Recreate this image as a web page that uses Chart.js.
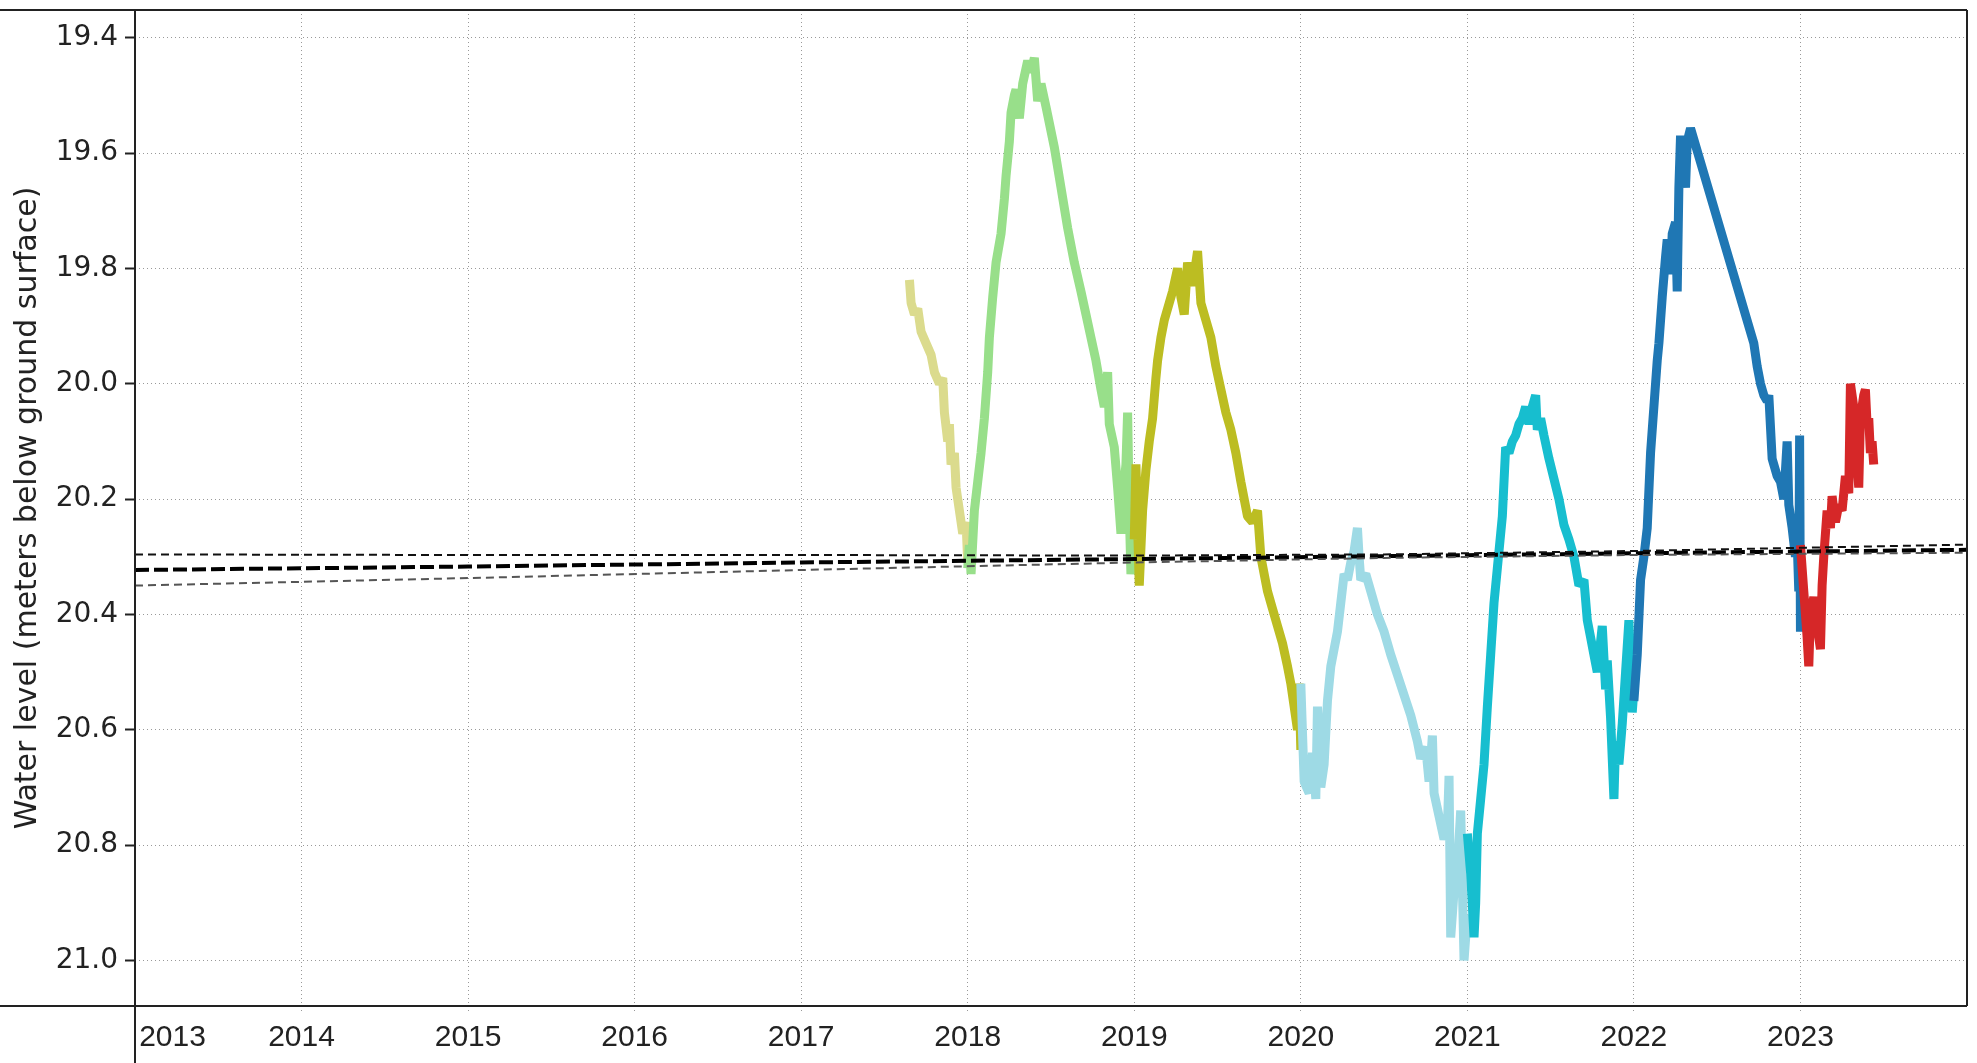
<!DOCTYPE html>
<html>
<head>
<meta charset="utf-8">
<script src="https://cdn.jsdelivr.net/npm/chart.js@4/dist/chart.umd.min.js"></script>
<style>
  body { margin: 0; background: #fff; }
  #wrap { width: 1977px; height: 1063px; }
</style>
</head>
<body>
<div id="wrap"><canvas id="canvas"></canvas></div>
<script>
// water level readings per year segment (decimal year, meters below ground)
const t2017 = [2017.65, 2017.66, 2017.68, 2017.70, 2017.72, 2017.75, 2017.78, 2017.80, 2017.83, 2017.85, 2017.86, 2017.88, 2017.89, 2017.90, 2017.92, 2017.93, 2017.95, 2017.97, 2017.99, 2018.0];
const w2017 = [19.82, 19.86, 19.88, 19.87, 19.91, 19.93, 19.95, 19.98, 20.00, 19.99, 20.05, 20.10, 20.07, 20.14, 20.12, 20.18, 20.22, 20.26, 20.24, 20.31];

const t2018 = [2018.0, 2018.01, 2018.02, 2018.04, 2018.06, 2018.08, 2018.10, 2018.12, 2018.13, 2018.15, 2018.17, 2018.20, 2018.22, 2018.23, 2018.25, 2018.26, 2018.28, 2018.29, 2018.31, 2018.33, 2018.36, 2018.38, 2018.40, 2018.42, 2018.44, 2018.47, 2018.52, 2018.56, 2018.60, 2018.64, 2018.68, 2018.71, 2018.74, 2018.77, 2018.80, 2018.82, 2018.84, 2018.85, 2018.88, 2018.90, 2018.92, 2018.93, 2018.95, 2018.96, 2018.97, 2018.98, 2019.0];
const w2018 = [20.32, 20.28, 20.33, 20.22, 20.17, 20.12, 20.06, 19.98, 19.92, 19.85, 19.79, 19.74, 19.68, 19.64, 19.58, 19.53, 19.50, 19.49, 19.54, 19.48, 19.44, 19.46, 19.435, 19.51, 19.48, 19.52, 19.59, 19.66, 19.73, 19.79, 19.84, 19.88, 19.92, 19.96, 20.01, 20.04, 19.98, 20.07, 20.11, 20.18, 20.26, 20.20, 20.14, 20.05, 20.22, 20.33, 20.27];

const t2019 = [2019.0, 2019.01, 2019.03, 2019.05, 2019.07, 2019.09, 2019.11, 2019.13, 2019.14, 2019.16, 2019.18, 2019.21, 2019.23, 2019.26, 2019.28, 2019.30, 2019.32, 2019.35, 2019.38, 2019.40, 2019.43, 2019.46, 2019.49, 2019.52, 2019.55, 2019.58, 2019.61, 2019.64, 2019.68, 2019.71, 2019.74, 2019.76, 2019.80, 2019.83, 2019.86, 2019.89, 2019.92, 2019.94, 2019.96, 2019.98, 2019.99, 2020.0];
const w2019 = [20.27, 20.14, 20.35, 20.22, 20.15, 20.10, 20.06, 19.99, 19.96, 19.92, 19.89, 19.86, 19.84, 19.80, 19.85, 19.88, 19.79, 19.83, 19.77, 19.86, 19.89, 19.92, 19.97, 20.01, 20.05, 20.08, 20.12, 20.17, 20.23, 20.24, 20.22, 20.30, 20.36, 20.39, 20.42, 20.45, 20.49, 20.52, 20.56, 20.60, 20.52, 20.635];

const t2020 = [2020.0, 2020.02, 2020.05, 2020.07, 2020.09, 2020.10, 2020.12, 2020.14, 2020.16, 2020.18, 2020.20, 2020.22, 2020.24, 2020.26, 2020.28, 2020.30, 2020.32, 2020.34, 2020.35, 2020.36, 2020.39, 2020.42, 2020.46, 2020.50, 2020.54, 2020.58, 2020.62, 2020.66, 2020.70, 2020.72, 2020.75, 2020.77, 2020.79, 2020.80, 2020.83, 2020.86, 2020.88, 2020.89, 2020.90, 2020.92, 2020.94, 2020.96, 2020.98, 2021.0];
const w2020 = [20.52, 20.69, 20.71, 20.64, 20.72, 20.56, 20.70, 20.66, 20.55, 20.49, 20.46, 20.43, 20.38, 20.33, 20.34, 20.31, 20.29, 20.25, 20.30, 20.34, 20.33, 20.36, 20.40, 20.43, 20.47, 20.505, 20.54, 20.575, 20.62, 20.65, 20.63, 20.69, 20.61, 20.71, 20.75, 20.79, 20.77, 20.68, 20.96, 20.88, 20.84, 20.74, 21.0, 20.92];

const t2021 = [2021.0, 2021.02, 2021.04, 2021.05, 2021.06, 2021.08, 2021.10, 2021.12, 2021.14, 2021.16, 2021.18, 2021.20, 2021.21, 2021.23, 2021.25, 2021.27, 2021.29, 2021.31, 2021.33, 2021.35, 2021.37, 2021.39, 2021.41, 2021.42, 2021.44, 2021.46, 2021.49, 2021.52, 2021.55, 2021.58, 2021.61, 2021.64, 2021.67, 2021.70, 2021.72, 2021.74, 2021.76, 2021.78, 2021.81, 2021.83, 2021.84, 2021.86, 2021.88, 2021.89, 2021.91, 2021.93, 2021.95, 2021.97, 2021.99, 2022.0];
const w2021 = [20.78, 20.85, 20.96, 20.90, 20.78, 20.72, 20.66, 20.56, 20.47, 20.38, 20.32, 20.26, 20.23, 20.11, 20.12, 20.10, 20.09, 20.07, 20.06, 20.04, 20.07, 20.04, 20.02, 20.08, 20.06, 20.09, 20.13, 20.165, 20.20, 20.245, 20.27, 20.30, 20.35, 20.34, 20.41, 20.44, 20.47, 20.50, 20.42, 20.53, 20.48, 20.58, 20.72, 20.62, 20.66, 20.59, 20.50, 20.41, 20.57, 20.53];

const t2022 = [2022.0, 2022.02, 2022.04, 2022.06, 2022.08, 2022.10, 2022.12, 2022.14, 2022.15, 2022.17, 2022.19, 2022.20, 2022.22, 2022.23, 2022.25, 2022.26, 2022.27, 2022.28, 2022.30, 2022.31, 2022.32, 2022.34, 2022.72, 2022.74, 2022.76, 2022.78, 2022.80, 2022.81, 2022.83, 2022.86, 2022.88, 2022.90, 2022.92, 2022.93, 2022.95, 2022.97, 2022.98, 2022.99, 2022.995, 2023.0];
const w2022 = [20.55, 20.47, 20.34, 20.30, 20.25, 20.12, 20.04, 19.96, 19.93, 19.85, 19.78, 19.75, 19.81, 19.74, 19.72, 19.84, 19.66, 19.57, 19.62, 19.66, 19.58, 19.557, 19.93, 19.97, 20.00, 20.02, 20.03, 20.02, 20.13, 20.16, 20.17, 20.20, 20.10, 20.21, 20.25, 20.30, 20.27, 20.36, 20.09, 20.43];

const t2023 = [2023.0, 2023.02, 2023.04, 2023.05, 2023.06, 2023.08, 2023.10, 2023.12, 2023.13, 2023.14, 2023.16, 2023.18, 2023.19, 2023.21, 2023.23, 2023.25, 2023.27, 2023.29, 2023.30, 2023.32, 2023.33, 2023.35, 2023.36, 2023.38, 2023.39, 2023.40, 2023.41, 2023.42, 2023.43, 2023.44];
const w2023 = [20.28, 20.36, 20.44, 20.49, 20.40, 20.37, 20.42, 20.46, 20.35, 20.30, 20.22, 20.25, 20.195, 20.24, 20.21, 20.22, 20.16, 20.19, 20.00, 20.04, 20.10, 20.18, 20.06, 20.02, 20.01, 20.07, 20.06, 20.12, 20.10, 20.14];

// trend line and its confidence band
const trendYears = [2013, 2015, 2017, 2019, 2020.5, 2022, 2024];
const trendMid   = [20.323, 20.317, 20.310, 20.304, 20.299, 20.294, 20.288];
const trendUpper = [20.296, 20.297, 20.297, 20.298, 20.296, 20.290, 20.279];
const trendLower = [20.350, 20.337, 20.323, 20.310, 20.302, 20.297, 20.293];

// axis ticks
const yearTicks = [2013, 2014, 2015, 2016, 2017, 2018, 2019, 2020, 2021, 2022, 2023];
const levelTicks = [19.4, 19.6, 19.8, 20.0, 20.2, 20.4, 20.6, 20.8, 21.0];

const segments = [
  { t: t2017, w: w2017, color: '#dbdb8d' },
  { t: t2018, w: w2018, color: '#98df8a' },
  { t: t2019, w: w2019, color: '#bcbd22' },
  { t: t2020, w: w2020, color: '#9edae5' },
  { t: t2021, w: w2021, color: '#17becf' },
  { t: t2022, w: w2022, color: '#1f77b4' },
  { t: t2023, w: w2023, color: '#d62728' },
];

function pts(xs, ys) {
  return xs.map((x, i) => ({ x: x, y: ys[i] }));
}

let datasets = [];

// trend lines go on top of the data
datasets.push({ data: pts(trendYears, trendUpper), borderColor: '#111', borderWidth: 2, borderDash: [8, 5], order: 0 });
datasets.push({ data: pts(trendYears, trendLower), borderColor: '#555', borderWidth: 2, borderDash: [8, 5], order: 0 });
datasets.push({ data: pts(trendYears, trendMid), borderColor: '#000', borderWidth: 4, borderDash: [14, 5], order: 0 });

// later years drawn over earlier ones
segments.forEach((s, i) => {
  datasets.push({ data: pts(s.t, s.w), borderColor: s.color, borderWidth: 9, borderJoinStyle: 'bevel', order: 20 - i });
});

// the outer frame: top and bottom lines run across the whole width
const frame = {
  id: 'frame',
  afterDraw(chart) {
    const { ctx, chartArea: a, height } = chart;
    ctx.save();
    ctx.strokeStyle = '#222';
    ctx.lineWidth = 2;
    ctx.beginPath();
    ctx.moveTo(0, a.top); ctx.lineTo(a.right, a.top);
    ctx.moveTo(0, a.bottom); ctx.lineTo(a.right, a.bottom);
    ctx.moveTo(a.left, a.top); ctx.lineTo(a.left, height);
    ctx.moveTo(a.right, a.top); ctx.lineTo(a.right, a.bottom);
    ctx.stroke();
    ctx.restore();
  }
};

let options = {
  type: 'line',
  data: { datasets: datasets },
  options: {
    responsive: true,
    maintainAspectRatio: false,
    animation: false,
    layout: { padding: { top: 10, right: 10, left: 0, bottom: 0 } },
    elements: { point: { radius: 0 }, line: { tension: 0 } },
    plugins: { legend: { display: false }, tooltip: { enabled: false } },
    scales: {
      x: {
        type: 'linear',
        min: 2013,
        max: 2024,
        afterBuildTicks: s => { s.ticks = yearTicks.map(v => ({ value: v })); },
        afterFit: s => { s.height = 57; s.paddingLeft = 0; s.paddingRight = 0; },
        ticks: {
          autoSkip: false,
          maxRotation: 0,
          padding: 8,
          color: '#222',
          font: { family: "'Liberation Sans', Arial, sans-serif", size: 30 },
          callback: v => v === 2013 ? '         2013' : String(v)
        },
        grid: { color: '#999', tickColor: '#999', tickLength: 6, tickBorderDash: [1, 3] },
        border: { display: false, dash: [1, 3] }
      },
      y: {
        reverse: true,
        min: 19.352,
        max: 21.079,
        afterBuildTicks: s => { s.ticks = levelTicks.map(v => ({ value: v })); },
        afterFit: s => { s.width = 135; s.paddingTop = 0; s.paddingBottom = 0; },
        ticks: {
          padding: 7,
          color: '#222',
          font: { family: "'DejaVu Sans', sans-serif", size: 28 },
          callback: v => v.toFixed(1)
        },
        grid: { color: '#999', tickColor: '#222', tickWidth: 2, tickLength: 10 },
        border: { display: false, dash: [1, 3] },
        title: {
          display: true,
          text: 'Water level (meters below ground surface)',
          color: '#222',
          font: { family: "'DejaVu Sans', sans-serif", size: 30 },
          padding: { top: 10, bottom: 0 }
        }
      }
    }
  },
  plugins: [frame]
};

let chart = new Chart(document.getElementById('canvas'), options);
</script>
</body>
</html>
